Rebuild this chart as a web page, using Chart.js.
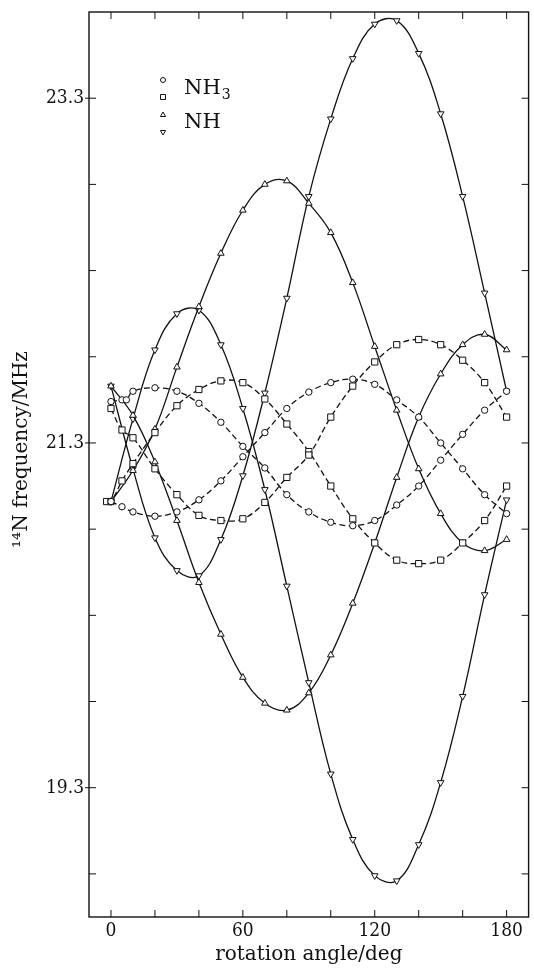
<!DOCTYPE html>
<html>
<head>
<meta charset="utf-8">
<script src="https://cdn.jsdelivr.net/npm/chart.js@4.4.1/dist/chart.umd.min.js"></script>
<style>
html, body { margin: 0; padding: 0; background: #fff; }
#wrap { width: 534px; height: 968px; }
</style>
</head>
<body>
<div id="wrap"><canvas id="nqrChart"></canvas></div>
<script>
// rotation angles in degrees
const angles = [0, 10, 20, 30, 40, 50, 60, 70, 80, 90, 100, 110, 120, 130, 140, 150, 160, 170, 180];
const anglesCircleA = [0, 5, 7, 10, 20, 30, 40, 50, 60, 70, 80, 90, 100, 110, 120, 130, 140, 150, 160, 170, 180];
const anglesCircleB = [0, 5, 10, 20, 30, 40, 50, 60, 70, 80, 90, 100, 110, 120, 130, 140, 150, 160, 170, 180];
const anglesSquareA = [0, 5, 10, 20, 30, 40, 50, 60, 70, 80, 90, 100, 110, 120, 130, 140, 150, 160, 170, 180];
const anglesSquareB = [-2, 0, 5, 10, 20, 30, 40, 50, 60, 70, 80, 90, 100, 110, 120, 130, 140, 150, 160, 170, 180];

// 14N frequencies in MHz
const nh3CircleA = [21.54, 21.55, 21.55, 21.60, 21.62, 21.60, 21.53, 21.42, 21.28, 21.155, 21.00, 20.90, 20.84, 20.82, 20.85, 20.94, 21.05, 21.20, 21.35, 21.49, 21.60];
const nh3CircleB = [20.96, 20.93, 20.90, 20.875, 20.90, 20.97, 21.08, 21.22, 21.36, 21.50, 21.595, 21.65, 21.67, 21.64, 21.55, 21.45, 21.30, 21.15, 21.00, 20.89];
const nh3SquareA = [21.50, 21.375, 21.33, 21.15, 21.00, 20.88, 20.85, 20.86, 20.955, 21.10, 21.23, 21.45, 21.63, 21.77, 21.87, 21.90, 21.87, 21.78, 21.65, 21.45];
const nh3SquareB = [20.96, 20.96, 21.08, 21.18, 21.36, 21.516, 21.61, 21.66, 21.65, 21.555, 21.41, 21.25, 21.05, 20.86, 20.72, 20.62, 20.60, 20.62, 20.72, 20.85, 21.05];
const nhUpA = [20.96, 21.14, 21.38, 21.74, 22.09, 22.40, 22.65, 22.80, 22.82, 22.69, 22.52, 22.23, 21.86, 21.49, 21.15, 20.89, 20.72, 20.675, 20.74];
const nhUpB = [21.63, 21.46, 21.19, 20.85, 20.49, 20.19, 19.94, 19.79, 19.75, 19.85, 20.07, 20.37, 20.72, 21.10, 21.45, 21.70, 21.87, 21.93, 21.84];
const nhDownA = [21.63, 21.15, 20.75, 20.56, 20.53, 20.74, 21.11, 21.59, 22.14, 22.73, 23.18, 23.53, 23.73, 23.75, 23.56, 23.21, 22.73, 22.17, 21.60];
const nhDownB = [20.96, 21.44, 21.84, 22.05, 22.07, 21.87, 21.50, 21.03, 20.47, 19.91, 19.38, 19.00, 18.79, 18.76, 18.97, 19.33, 19.83, 20.42, 20.97];

// ticks and labels
const xTicks = [0, 20, 40, 60, 80, 100, 120, 140, 160, 180];
const xLabels = [0, 60, 120, 180];
const yTicks = [18.8, 19.3, 19.8, 20.3, 20.8, 21.3, 21.8, 22.3, 22.8, 23.3];
const yLabels = [19.3, 21.3, 23.3];

const ink = "#111";
const serif = "'DejaVu Serif', 'Liberation Serif', serif";
const numFont = "'DejaVu Serif Condensed', 'DejaVu Serif', serif";

function pts(xs, ys) {
    return xs.map((a, i) => ({ x: a, y: ys[i] }));
}

function series(xs, ys, style, dashed, rot, r) {
    return {
        data: pts(xs, ys),
        borderColor: ink,
        borderWidth: 1.3,
        borderDash: dashed ? [6, 3.5] : [],
        tension: 0.4,
        pointStyle: style,
        rotation: rot || 0,
        pointRadius: r,
        pointBorderWidth: 1,
        pointBorderColor: ink,
        pointBackgroundColor: "#fff",
        fill: false
    };
}

function isIn(list, v) {
    return list.some(t => Math.abs(t - v) < 1e-6);
}

const frameTicks = {
    id: "frameTicks",
    afterDatasetsDraw(chart) {
        const { ctx, chartArea: a } = chart;
        const sx = chart.scales.x, sy = chart.scales.y;
        ctx.save();
        ctx.strokeStyle = ink;
        ctx.lineWidth = 1.4;
        ctx.strokeRect(a.left, a.top, a.right - a.left, a.bottom - a.top);
        ctx.lineWidth = 1;
        ctx.beginPath();
        xTicks.forEach(v => {
            const p = sx.getPixelForValue(v);
            ctx.moveTo(p, a.bottom); ctx.lineTo(p, a.bottom - 7);
            ctx.moveTo(p, a.top); ctx.lineTo(p, a.top + 7);
        });
        yTicks.forEach(v => {
            const p = sy.getPixelForValue(v);
            const out = isIn(yLabels, v) ? 4 : 0;
            ctx.moveTo(a.left - out, p); ctx.lineTo(a.left + 7, p);
            ctx.moveTo(a.right, p); ctx.lineTo(a.right - 7, p);
        });
        ctx.stroke();
        ctx.restore();
    }
};

// y-axis title, drawn a little above the middle of the axis as in the original
const yTitle = {
    id: "yTitle",
    afterDraw(chart) {
        const { ctx, chartArea: a } = chart;
        ctx.save();
        ctx.translate(22, (a.top + a.bottom) / 2 - 15);
        ctx.rotate(-Math.PI / 2);
        ctx.fillStyle = ink;
        ctx.font = "20px " + serif;
        ctx.textAlign = "center";
        ctx.textBaseline = "middle";
        ctx.fillText("¹⁴N frequency/MHz", 0, 0);
        ctx.restore();
    }
};

function mark(ctx, style, x, y, r) {
    ctx.beginPath();
    if (style === "circle") {
        ctx.arc(x, y, r, 0, Math.PI * 2);
    } else if (style === "rect") {
        ctx.rect(x - r, y - r, 2 * r, 2 * r);
    } else if (style === "up") {
        ctx.moveTo(x, y - r); ctx.lineTo(x + r * 0.87, y + r * 0.5); ctx.lineTo(x - r * 0.87, y + r * 0.5); ctx.closePath();
    } else {
        ctx.moveTo(x, y + r); ctx.lineTo(x + r * 0.87, y - r * 0.5); ctx.lineTo(x - r * 0.87, y - r * 0.5); ctx.closePath();
    }
    ctx.fillStyle = "#fff";
    ctx.fill();
    ctx.stroke();
}

const keyBox = {
    id: "keyBox",
    afterDraw(chart) {
        const { ctx, chartArea: a } = chart;
        const x = a.left + 74;
        ctx.save();
        ctx.strokeStyle = ink;
        ctx.lineWidth = 1;
        mark(ctx, "circle", x, a.top + 68, 2.5);
        mark(ctx, "rect", x, a.top + 85, 2.5);
        mark(ctx, "up", x, a.top + 103, 3);
        mark(ctx, "down", x, a.top + 120, 3);
        ctx.fillStyle = ink;
        ctx.textBaseline = "middle";
        ctx.textAlign = "left";
        ctx.font = "21px " + serif;
        ctx.fillText("NH", x + 21, a.top + 77);
        const w = ctx.measureText("NH").width;
        ctx.font = "14px " + serif;
        ctx.fillText("3", x + 21 + w + 1, a.top + 83);
        ctx.font = "21px " + serif;
        ctx.fillText("NH", x + 21, a.top + 111);
        ctx.restore();
    }
};

new Chart(document.getElementById("nqrChart"), {
    type: "line",
    data: {
        datasets: [
            series(anglesCircleA, nh3CircleA, "circle", true, 0, 3.2),
            series(anglesCircleB, nh3CircleB, "circle", true, 0, 3.2),
            series(anglesSquareA, nh3SquareA, "rect", true, 0, 4.4),
            series(anglesSquareB, nh3SquareB, "rect", true, 0, 4.4),
            series(angles, nhUpA, "triangle", false, 0, 3.8),
            series(angles, nhUpB, "triangle", false, 0, 3.8),
            series(angles, nhDownA, "triangle", false, 180, 3.8),
            series(angles, nhDownB, "triangle", false, 180, 3.8)
        ]
    },
    options: {
        responsive: true,
        maintainAspectRatio: false,
        animation: false,
        layout: { padding: { top: 12, right: 3, left: 0, bottom: 0 } },
        plugins: {
            legend: { display: false },
            tooltip: { enabled: false }
        },
        scales: {
            x: {
                type: "linear",
                min: -10,
                max: 190,
                grid: { display: false, drawTicks: false },
                border: { display: false },
                afterBuildTicks: s => { s.ticks = xTicks.map(v => ({ value: v })); },
                afterFit: s => { s.height = 51; s.paddingLeft = 0; s.paddingRight = 0; },
                ticks: {
                    autoSkip: false,
                    maxRotation: 0,
                    padding: 3,
                    color: ink,
                    font: { family: numFont, size: 19 },
                    callback: v => isIn(xLabels, v) ? String(v) : ""
                },
                title: {
                    display: true,
                    text: "rotation angle/deg",
                    color: ink,
                    font: { family: serif, size: 20 },
                    padding: { top: 0, bottom: 1 }
                }
            },
            y: {
                type: "linear",
                min: 18.55,
                max: 23.8,
                grid: { display: false, drawTicks: false },
                border: { display: false },
                afterBuildTicks: s => { s.ticks = yTicks.map(v => ({ value: v })); },
                afterFit: s => { s.width = 89; s.paddingTop = 0; s.paddingBottom = 0; },
                ticks: {
                    autoSkip: false,
                    padding: 5,
                    color: ink,
                    font: { family: numFont, size: 19 },
                    callback: v => isIn(yLabels, v) ? v.toFixed(1) : ""
                }
            }
        }
    },
    plugins: [frameTicks, yTitle, keyBox]
});
</script>
</body>
</html>
